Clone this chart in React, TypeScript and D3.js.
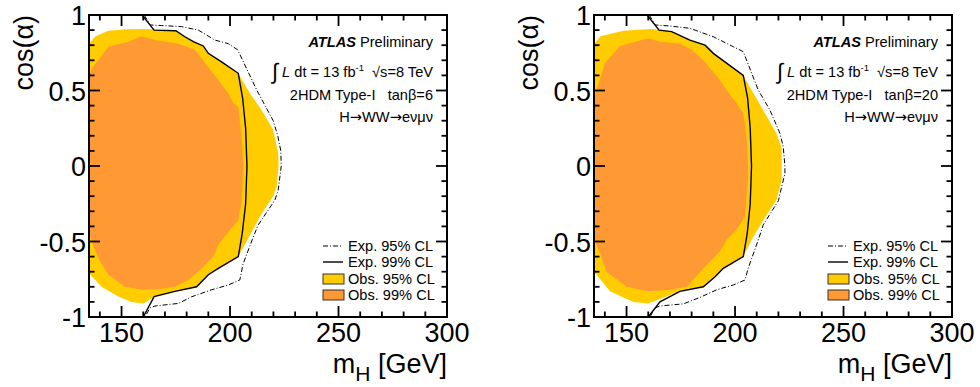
import React from 'react'
import * as d3 from 'd3'

type Pt = [number, number]

// axis ticks / labels
const xMajorTicks = [150, 200, 250, 300]
const yMajorTicks = [-1, -0.5, 0, 0.5, 1]
const legendLabels = ['Exp. 95% CL', 'Exp. 99% CL', 'Obs. 95% CL', 'Obs. 99% CL']
const tanBetaValues = [6, 20]

// contours, [mH, cos(alpha)]
const obs95Tan6: Pt[] = [
  [135, 0.81], [138, 0.86], [143.9, 0.896], [152, 0.905], [160.8, 0.907], [168, 0.903],
  [175, 0.896], [179.2, 0.856], [183.1, 0.823], [187.7, 0.795], [190, 0.746], [196.1, 0.69],
  [203.5, 0.62], [209.2, 0.48], [214.6, 0.37], [219.9, 0.24], [222.2, 0.084], [222.4, 0.0],
  [221.5, -0.137], [219.9, -0.2], [214, -0.33], [209.2, -0.457], [203.8, -0.6], [194.6, -0.678],
  [190, -0.72], [184.6, -0.8], [175, -0.83], [165.4, -0.865], [160, -0.91], [154.6, -0.9],
  [148.5, -0.865], [140.8, -0.8], [135, -0.71],
]
const obs99Tan6: Pt[] = [
  [135, 0.6], [136.5, 0.65], [139.3, 0.7], [143.9, 0.79], [153.1, 0.823], [159.3, 0.86],
  [165.4, 0.834], [176.2, 0.81], [183.9, 0.768], [188.5, 0.68], [194.6, 0.57], [199.2, 0.48],
  [201.5, 0.415], [203.8, 0.39], [205.4, 0.17], [206.1, 0.0], [205.4, -0.225], [203.8, -0.36],
  [198.5, -0.45], [194.6, -0.52], [192.3, -0.6], [186.9, -0.678], [180.8, -0.755], [174.6, -0.8],
  [167, -0.815], [160, -0.82], [151.6, -0.8], [143.9, -0.72], [139.3, -0.61], [136.2, -0.5],
  [135, -0.45],
]
const exp99Tan6: Pt[] = [
  [159.5, 1.0], [165, 0.9], [175, 0.896], [179.2, 0.856], [183.1, 0.823], [187.7, 0.795],
  [190, 0.746], [196.1, 0.69], [203.8, 0.614], [205.8, 0.45], [207.2, 0.25], [207.8, 0.0],
  [207.2, -0.25], [205.6, -0.45], [203.8, -0.6], [194.6, -0.678], [190, -0.72], [184.6, -0.8],
  [174.6, -0.83], [165, -0.865], [160, -1.0],
]
const exp95Tan6: Pt[] = [
  [160.5, 1.0], [163.1, 0.934], [168.5, 0.93], [177.7, 0.923], [185.4, 0.9], [193, 0.834],
  [199.2, 0.81], [203.5, 0.77], [212.3, 0.503], [219.9, 0.3], [222, 0.2], [223.4, 0.1],
  [223.6, 0.0], [222.2, -0.16], [220.7, -0.225], [213, -0.39], [210.7, -0.47], [206, -0.65],
  [204.5, -0.755], [199.2, -0.788], [191.5, -0.82], [182.3, -0.866], [176.2, -0.91],
  [165.4, -0.927], [163.1, -0.94], [160.8, -1.0],
]

const obs95Tan20: Pt[] = [
  [135, 0.81], [138, 0.86], [148.5, 0.896], [160.8, 0.907], [166, 0.903], [170.8, 0.89],
  [179.2, 0.834], [186.2, 0.8], [190, 0.746], [203.8, 0.6], [207.6, 0.503], [213, 0.37],
  [219.1, 0.216], [221.5, 0.117], [221.5, -0.093], [219.1, -0.225], [213, -0.36], [207.6, -0.49],
  [203.8, -0.6], [194.6, -0.678], [190.8, -0.733], [185.4, -0.8], [174.6, -0.83], [165.4, -0.88],
  [160, -0.91], [153.1, -0.9], [142.4, -0.83], [136.2, -0.72], [135, -0.7],
]
const obs99Tan20: Pt[] = [
  [135, 0.45], [136.2, 0.503], [140, 0.68], [147, 0.795], [160, 0.846], [165.4, 0.823],
  [174.6, 0.81], [180, 0.77], [185.4, 0.7], [193, 0.57], [196.1, 0.503], [200.7, 0.415],
  [203.8, 0.35], [205.4, 0.17], [206.1, -0.05], [204.6, -0.335], [200.7, -0.42], [196.1, -0.49],
  [193, -0.567], [186.9, -0.656], [177.7, -0.8], [170, -0.82], [160, -0.83], [150, -0.8],
  [140.8, -0.7], [136.2, -0.52], [135, -0.45],
]
const exp99Tan20: Pt[] = [
  [159.5, 1.0], [165, 0.9], [170.8, 0.89], [179.2, 0.834], [186.2, 0.8], [190, 0.746],
  [203.8, 0.6], [205.8, 0.45], [207, 0.25], [207.6, 0.0], [207, -0.25], [205.6, -0.45],
  [203.8, -0.6], [194.6, -0.678], [190.8, -0.733], [185.4, -0.8], [174.6, -0.83], [165.4, -0.9],
  [160, -1.0],
]
const exp95Tan20: Pt[] = [
  [160.5, 1.0], [163.1, 0.934], [170, 0.927], [179.2, 0.912], [190, 0.856], [199.2, 0.79],
  [203.8, 0.757], [210.7, 0.503], [216.1, 0.37], [220.7, 0.216], [222.2, 0.128], [223, 0.0],
  [223, -0.05], [221.5, -0.137], [220, -0.23], [213, -0.39], [210.7, -0.49], [206, -0.68],
  [204.6, -0.755], [199.2, -0.788], [191.5, -0.82], [183.9, -0.87], [176.2, -0.913],
  [165.4, -0.927], [163.1, -0.94], [160.8, -1.0],
]

const FONT = "'Liberation Sans', Arial, Helvetica, sans-serif"
const ARROW_FONT = "'DejaVu Sans', sans-serif"
const YELLOW = '#ffcc00'
const ORANGE = '#ff9933'
const DASHDOT = '5 2 1 2'
const SMALL = 14.6

const Panel = ({ left, tanb, obs95, obs99, exp95, exp99 }: any) => {
  const top = 15
  const bottom = 317
  const right = left + 358
  const x = d3.scaleLinear().domain([135, 300]).range([left, right])
  const y = d3.scaleLinear().domain([-1, 1]).range([bottom, top])
  const line = d3.line<Pt>().x((d) => x(d[0])).y((d) => y(d[1]))
  const xMinor = x.ticks(20).filter((v) => !xMajorTicks.includes(v))
  const yMinor = y.ticks(20).filter((v) => !yMajorTicks.some((m) => Math.abs(m - v) < 1e-9))
  const clipId = `clip-${tanb}`
  const ax = right - 14
  const legX = right - 124
  const legY = [246, 262, 279, 295]

  return (
    <g fontFamily={FONT}>
      <defs>
        <clipPath id={clipId}>
          <rect x={left} y={top} width={right - left} height={bottom - top} />
        </clipPath>
      </defs>
      <g clipPath={`url(#${clipId})`}>
        <path d={line(obs95) + 'Z'} fill={YELLOW} />
        <path d={line(obs99) + 'Z'} fill={ORANGE} />
        <path d={line(exp95)!} fill="none" stroke="#000" strokeWidth={1} strokeDasharray={DASHDOT} />
        <path d={line(exp99)!} fill="none" stroke="#000" strokeWidth={1.4} />
      </g>

      {/* ticks */}
      <g stroke="#000" strokeWidth={1.8}>
        {xMajorTicks.map((v) => (
          <g key={'xM' + v}>
            <line x1={x(v)} x2={x(v)} y1={bottom} y2={bottom - 11} />
            <line x1={x(v)} x2={x(v)} y1={top} y2={top + 11} />
          </g>
        ))}
        {xMinor.map((v) => (
          <g key={'xm' + v}>
            <line x1={x(v)} x2={x(v)} y1={bottom} y2={bottom - 5.5} />
            <line x1={x(v)} x2={x(v)} y1={top} y2={top + 5.5} />
          </g>
        ))}
        {yMajorTicks.map((v) => (
          <g key={'yM' + v}>
            <line x1={left} x2={left + 11} y1={y(v)} y2={y(v)} />
            <line x1={right} x2={right - 11} y1={y(v)} y2={y(v)} />
          </g>
        ))}
        {yMinor.map((v) => (
          <g key={'ym' + v}>
            <line x1={left} x2={left + 5.5} y1={y(v)} y2={y(v)} />
            <line x1={right} x2={right - 5.5} y1={y(v)} y2={y(v)} />
          </g>
        ))}
      </g>
      <rect x={left} y={top} width={right - left} height={bottom - top} fill="none" stroke="#000" strokeWidth={2} />

      {/* tick labels */}
      {xMajorTicks.map((v) => (
        <text key={'xl' + v} x={x(v)} y={342} fontSize={27} textAnchor="middle">{v}</text>
      ))}
      {yMajorTicks.map((v) => (
        <text key={'yl' + v} x={left - 3} y={y(v) + 10} fontSize={27} textAnchor="end">{String(v)}</text>
      ))}

      {/* axis titles */}
      <text x={right} y={373} fontSize={27} textAnchor="end">
        m<tspan fontSize={21} dy={8}>H</tspan><tspan dy={-8}> [GeV]</tspan>
      </text>
      <text transform={`translate(${left - 56},${top}) rotate(-90)`} fontSize={27} textAnchor="end">cos(α)</text>

      {/* annotations */}
      <text x={ax} y={47} fontSize={SMALL} textAnchor="end">
        <tspan fontWeight="bold" fontStyle="italic">ATLAS</tspan> Preliminary
      </text>
      <text x={ax} y={77} fontSize={SMALL} textAnchor="end" style={{ whiteSpace: 'pre' }}>
        <tspan fontSize={22} dy={2}>∫</tspan>
        <tspan dy={-2}> </tspan>
        <tspan fontStyle="italic">L</tspan>
        <tspan> dt = 13 fb</tspan>
        <tspan fontSize={9.5} dy={-6}>-1</tspan>
        <tspan dy={6}>  √s=8 TeV</tspan>
      </text>
      <text x={ax} y={100} fontSize={SMALL} textAnchor="end" style={{ whiteSpace: 'pre' }}>
        {`2HDM Type-I   tanβ=${tanb}`}
      </text>
      <text x={ax} y={122} fontSize={SMALL} textAnchor="end">
        H<tspan fontFamily={ARROW_FONT}>→</tspan>WW<tspan fontFamily={ARROW_FONT}>→</tspan>eνμν
      </text>

      {/* legend */}
      <line x1={legX} x2={legX + 18} y1={legY[0]} y2={legY[0]} stroke="#000" strokeWidth={1} strokeDasharray={DASHDOT} />
      <line x1={legX} x2={legX + 20} y1={legY[1]} y2={legY[1]} stroke="#000" strokeWidth={1.4} />
      <rect x={legX} y={legY[2] - 5} width={21} height={10} fill={YELLOW} stroke="#333" strokeWidth={1} />
      <rect x={legX} y={legY[3] - 5} width={21} height={10} fill={ORANGE} stroke="#333" strokeWidth={1} />
      {legendLabels.map((t, i) => (
        <text key={t} x={legX + 25} y={legY[i] + 5} fontSize={SMALL}>{t}</text>
      ))}
    </g>
  )
}

export default function App() {
  return (
    <div style={{ position: 'absolute', left: 0, top: 0 }}>
      <svg width={980} height={387} style={{ display: 'block', background: '#fff' }}>
        <Panel left={89} tanb={tanBetaValues[0]} obs95={obs95Tan6} obs99={obs99Tan6} exp95={exp95Tan6} exp99={exp99Tan6} />
        <Panel left={594} tanb={tanBetaValues[1]} obs95={obs95Tan20} obs99={obs99Tan20} exp95={exp95Tan20} exp99={exp99Tan20} />
      </svg>
    </div>
  )
}
